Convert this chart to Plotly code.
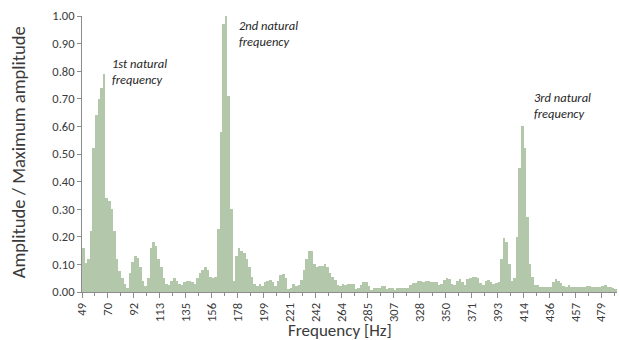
import plotly.graph_objects as go

# ---- data ----
F0 = 48.9      # first frequency bin [Hz]
DF = 2.15      # bin width [Hz]

amplitude = [
    0.16, 0.105, 0.12, 0.22, 0.52, 0.64, 0.70, 0.74, 0.79, 0.34,
    0.33, 0.30, 0.22, 0.12, 0.075, 0.05, 0.03, 0.015, 0.07, 0.11,
    0.13, 0.125, 0.09, 0.04, 0.02, 0.05, 0.16, 0.18, 0.165, 0.12,
    0.09, 0.05, 0.03, 0.025, 0.04, 0.05, 0.04, 0.03, 0.025, 0.035,
    0.04, 0.04, 0.035, 0.03, 0.05, 0.07, 0.08, 0.09, 0.08, 0.055,
    0.05, 0.055, 0.23, 0.58, 0.97, 1.00, 0.71, 0.30, 0.04, 0.13,
    0.16, 0.15, 0.14, 0.12, 0.09, 0.055, 0.03, 0.02, 0.03, 0.02,
    0.035, 0.04, 0.045, 0.035, 0.02, 0.04, 0.06, 0.065, 0.05, 0.01,
    0.015, 0.03, 0.02, 0.025, 0.045, 0.08, 0.12, 0.15, 0.15, 0.10,
    0.09, 0.095, 0.095, 0.10, 0.09, 0.07, 0.055, 0.045, 0.025, 0.02,
    0.03, 0.025, 0.03, 0.03, 0.03, 0.01, 0.015, 0.025, 0.037, 0.035,
    0.02, 0.007, 0.013, 0.013, 0.015, 0.023, 0.022, 0.01, 0.013, 0.013,
    0.007, 0.015, 0.015, 0.013, 0.015, 0.015, 0.025, 0.033, 0.033, 0.04,
    0.04, 0.035, 0.04, 0.04, 0.035, 0.035, 0.037, 0.027, 0.029, 0.044,
    0.05, 0.046, 0.03, 0.025, 0.04, 0.046, 0.035, 0.025, 0.046, 0.05,
    0.053, 0.053, 0.05, 0.031, 0.025, 0.04, 0.043, 0.035, 0.029, 0.031,
    0.035, 0.12, 0.195, 0.18, 0.10, 0.04, 0.05, 0.20, 0.45, 0.60,
    0.52, 0.27, 0.10, 0.053, 0.025, 0.025, 0.017, 0.017, 0.017, 0.019,
    0.019, 0.037, 0.046, 0.041, 0.031, 0.022, 0.019, 0.025, 0.019, 0.017,
    0.017, 0.017, 0.017, 0.017, 0.022, 0.022, 0.019, 0.019, 0.017, 0.017,
    0.022, 0.024, 0.019, 0.019, 0.013, 0.01,
]

tick_labels = ["49", "70", "92", "113", "135", "156", "178", "199", "221", "242",
               "264", "285", "307", "328", "350", "371", "393", "414", "436", "457", "479"]

annotations_text = ["1st natural<br>frequency", "2nd natural<br>frequency", "3rd natural<br>frequency"]
x_title = "Frequency [Hz]"
y_title = "Amplitude / Maximum amplitude"

# ---- derived frequency bins ----
freqs = [F0 + DF * i for i in range(len(amplitude))]
major_pos = [freqs[10 * k] - DF / 2 for k in range(len(tick_labels))]
minor_pos = [freqs[10 * k + 5] - DF / 2 for k in range(len(tick_labels)) if 10 * k + 5 < len(freqs)]

BAR = "#b3c8ab"
AXIS = "#8c8c8c"
TEXT = "#3a3a3a"
FONT = "Carlito, Calibri, Lato, sans-serif"

fig = go.Figure()
fig.add_trace(go.Bar(x=freqs, y=amplitude, width=DF,
                     marker=dict(color=BAR, line=dict(width=0)),
                     hoverinfo="x+y"))

ann_pos = [(0.052, 0.80), (0.290, 0.935), (0.841, 0.674)]
for txt, (ax, ay) in zip(annotations_text, ann_pos):
    fig.add_annotation(xref="paper", yref="paper", x=ax, y=ay, text="<i>" + txt + "</i>",
                       showarrow=False, xanchor="left", yanchor="middle", align="left",
                       font=dict(family=FONT, size=12.5, color="#262626"))

# axis titles placed as in the reference
fig.add_annotation(xref="paper", yref="paper", x=0.482, y=-0.141, text=x_title,
                   showarrow=False, xanchor="center", yanchor="middle",
                   font=dict(family=FONT, size=17, color=TEXT))
fig.add_annotation(xref="paper", yref="paper", x=-0.1196, y=0.506, text=y_title,
                   showarrow=False, xanchor="center", yanchor="middle", textangle=-90,
                   font=dict(family=FONT, size=18.6, color=TEXT))

fig.update_layout(
    width=619, height=340,
    margin=dict(l=82, r=2, t=16, b=48),
    paper_bgcolor="white", plot_bgcolor="white",
    bargap=0, showlegend=False,
    font=dict(family=FONT, color=TEXT),
    xaxis=dict(
        range=[freqs[0] - DF / 2, freqs[-1] + DF / 2],
        tickmode="array", tickvals=major_pos, ticktext=tick_labels,
        tickangle=-90, ticks="outside", ticklen=5, tickcolor=AXIS,
        showline=True, linecolor=AXIS, linewidth=1,
        showgrid=False, zeroline=False,
        tickfont=dict(family=FONT, size=12.5, color=TEXT),
        minor=dict(tickmode="array", tickvals=minor_pos, ticks="outside", ticklen=3, tickcolor=AXIS),
    ),
    yaxis=dict(
        range=[0, 1.0], dtick=0.1, tickformat=".2f",
        ticks="outside", ticklen=4, tickcolor=AXIS,
        showline=True, linecolor=AXIS, linewidth=1,
        showgrid=False, zeroline=False,
        tickfont=dict(family=FONT, size=12.5, color=TEXT),
    ),
)

fig.write_html("out.html")
